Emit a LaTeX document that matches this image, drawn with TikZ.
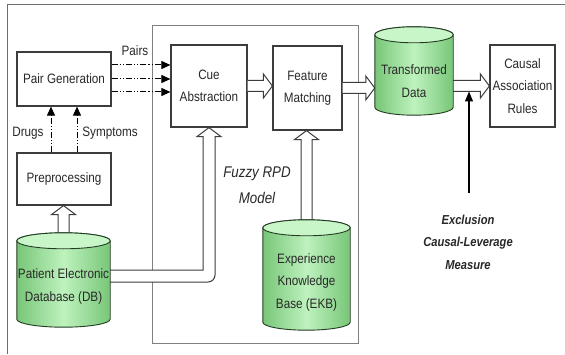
\documentclass[tikz,border=0pt]{standalone}
\usepackage{fontspec}
\setmainfont{Liberation Sans}[FakeStretch=0.86]
\usetikzlibrary{calc,arrows.meta}
\definecolor{txt}{RGB}{40,40,40}
\definecolor{edge}{RGB}{60,60,60}
\definecolor{gA}{RGB}{120,198,120}
\definecolor{gB}{RGB}{190,242,190}
\definecolor{gTop}{RGB}{200,246,200}
\definecolor{gEdge}{RGB}{35,60,35}

\newcommand{\drawcyl}[1]{%
 \path[draw=gEdge, line width=0.9pt, left color=gA, right color=gA, middle color=gB]
   let \p1=(#1.north west), \p2=(#1.south east), \n1={(\x2-\x1)/2} in
   (\x1,\y1-8pt) -- (\x1,\y2+8pt) arc[start angle=180,end angle=360,x radius=\n1,y radius=8pt]
   -- (\x2,\y1-8pt) arc[start angle=0,end angle=180,x radius=\n1,y radius=8pt] -- cycle;
 \path[draw=gEdge, line width=0.9pt, fill=gTop]
   let \p1=(#1.north west), \p2=(#1.south east), \n1={(\x2-\x1)/2} in
   ({(\x1+\x2)/2},\y1-8pt) ellipse[x radius=\n1, y radius=8pt];
}

\tikzset{
  lbl/.style={font=\fontsize{13.6}{22.5}\selectfont, text=txt, align=center},
  box/.style={lbl, draw=edge, line width=1.2pt, fill=white, inner sep=0pt},
  cylnode/.style={inner sep=0pt},
  hollow/.style={draw=edge, line width=1pt, fill=white, line join=miter},
  hollowR/.style={to path={let \p1=(\tikztostart), \p2=(\tikztotarget) in
     (\x1,\y1+5.5pt) -- (\x2-9pt,\y1+5.5pt) -- (\x2-9pt,\y1+12pt) -- (\x2,\y1)
     -- (\x2-9pt,\y1-12pt) -- (\x2-9pt,\y1-5.5pt) -- (\x1,\y1-5.5pt)}},
  hollowU/.style={to path={let \p1=(\tikztostart), \p2=(\tikztotarget) in
     (\x1-5.5pt,\y1) -- (\x1-5.5pt,\y2-9pt) -- (\x1-12pt,\y2-9pt) -- (\x1,\y2)
     -- (\x1+12pt,\y2-9pt) -- (\x1+5.5pt,\y2-9pt) -- (\x1+5.5pt,\y1)}},
  dd/.style={draw=black, line width=1pt, dash pattern=on 6pt off 2pt on 1.2pt off 2pt on 1.2pt off 2pt,
     -{Triangle[length=9pt,width=8pt]}},
  blk/.style={draw=black, line width=1.1pt, -{Triangle[length=10pt,width=8pt]}}
}

\begin{document}
\begin{tikzpicture}[x=1pt, y=1pt]
\fill[white] (0,0) rectangle (565,354);
\useasboundingbox (0,0) rectangle (565,354);

% outer frame
\draw[gray!85!black, line width=0.8pt] (7,0) -- (7,350) -- (565,350);

% Fuzzy RPD model frame
\node[draw=gray, line width=0.7pt, minimum width=206pt, minimum height=318pt, inner sep=0pt] (frpd) at (255,170) {};

% boxes
\node[box, minimum width=94pt, minimum height=54pt] (pg) at (64,275) {Pair Generation};
\node[box, minimum width=94pt, minimum height=52pt] (pre) at (64,175) {Preprocessing};
\node[box, minimum width=76pt, minimum height=82pt] (cue) at (209,268) {Cue\\Abstraction};
\node[box, minimum width=69pt, minimum height=84pt] (feat) at (307.5,266) {Feature\\Matching};
\node[box, minimum width=65pt, minimum height=82pt] (causal) at (522.5,268) {Causal\\Association\\Rules};

% cylinder placeholders
\node[cylnode, minimum width=78pt, minimum height=88pt] (td) at (414,283) {};
\node[cylnode, minimum width=93pt, minimum height=94pt] (db) at (63.5,74) {};
\node[cylnode, minimum width=87pt, minimum height=110pt] (ekb) at (306.5,79) {};

% dash-dot arrows
\draw[dd] ($(pg.east)+(0,14)$) -- ($(cue.west)+(0,21)$);
\draw[dd] ($(pg.east)+(0,0)$) -- ($(cue.west)+(0,7)$);
\draw[dd] ($(pg.east)+(0,-13)$) -- ($(cue.west)+(0,-6)$);
\draw[dd] ($(pre.north)+(-13,0)$) -- ($(pg.south)+(-13,0)$);
\draw[dd] ($(pre.north)+(13,0)$) -- ($(pg.south)+(13,0)$);

% hollow arrows
\path[hollow] (cue.east) to[hollowR] (feat.west);
\path[hollow] (feat.east) to[hollowR] (td.west);
\path[hollow] (td.east |- causal.west) to[hollowR] (causal.west);
\path[hollow] (db.north) to[hollowU] (pre.south);
\path[hollow] (ekb.north) to[hollowU] (feat.south);
\path[hollow] let \p1=(db.east), \p2=(cue.south) in
   (\x1,\y1+10pt) -- (\x2-6pt,\y1+10pt) -- (\x2-6pt,\y2-9pt) -- (\x2-12pt,\y2-9pt) -- (\x2,\y2)
   -- (\x2+12pt,\y2-9pt) -- (\x2+6pt,\y2-9pt) [rounded corners=7pt]-- (\x2+6pt,\y1-2pt) -- (\x1,\y1-2pt);

% exclusion measure arrow
\coordinate (ex) at (469,161);
\coordinate (shaftb) at ($(causal.west)+(0,-5.5)$);
\draw[blk] (ex) -- (ex |- shaftb);

% cylinders
\drawcyl{td}
\drawcyl{db}
\drawcyl{ekb}
\node[lbl] (tdt) at (414,273) {Transformed\\Data};
\node[lbl] (dbt) at (63.5,67.5) {Patient Electronic\\Database (DB)};
\node[lbl] (ekbt) at (306.5,72) {Experience\\Knowledge\\Base (EKB)};

% labels
\node[lbl] (pairs) at (135,303) {Pairs};
\node[lbl] (drugs) at (28,221) {Drugs};
\node[lbl] (sympt) at (110,221) {Symptoms};
\node[lbl, font=\fontsize{15.5}{26}\itshape] (fuzzy) at (257,169) {Fuzzy RPD\\Model};
\node[lbl, font=\fontsize{13}{22.5}\bfseries\itshape] (exl) at (468,112) {Exclusion\\Causal-Leverage\\Measure};
\end{tikzpicture}
\end{document}
